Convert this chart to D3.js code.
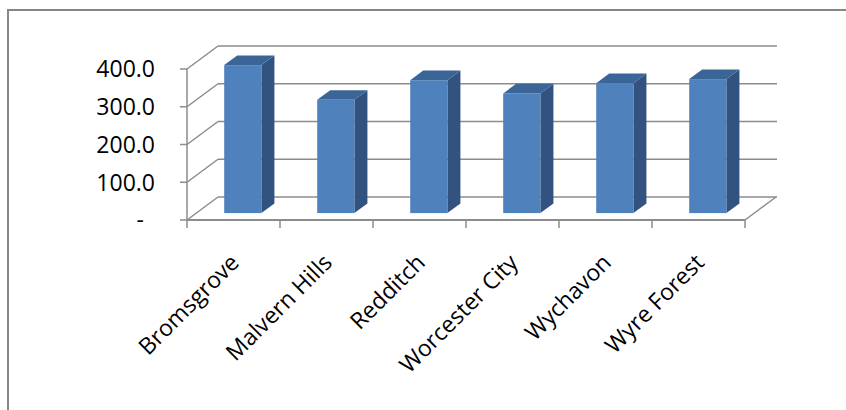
<!DOCTYPE html>
<html>
<head>
<meta charset="utf-8">
<script src="https://cdn.jsdelivr.net/npm/d3@7"></script>
<style>
  html, body { margin: 0; padding: 0; background: #fff; overflow: hidden; }
  svg { display: block; }
</style>
</head>
<body>
<svg id="chart" width="846" height="410"></svg>
<script>
const categories = ["Bromsgrove", "Malvern Hills", "Redditch", "Worcester City", "Wychavon", "Wyre Forest"];
const values = [392, 300, 352, 317, 344, 355];
const yTicks = [0, 100, 200, 300, 400];
const yTickLabels = ["-", "100.0", "200.0", "300.0", "400.0"];

const svg = d3.select("#chart");

// outer chart border: only top and left edges fall inside the frame
svg.append("path")
  .attr("d", "M8,412 L8,10 L848,10")
  .attr("fill", "none")
  .attr("stroke", "#868686").attr("stroke-width", 2);

// 3D projection: depth offset of the full floor
const DX = 31, DY = -23;
const x = d3.scaleBand().domain(categories).range([187, 745]).paddingInner(0).paddingOuter(0);
const y = d3.scaleLinear().domain([0, 400]).range([220, 69]);

const grid = "#8c8c8c";
const g = svg.append("g");

g.selectAll(".bgrid").data(yTicks).join("line")
  .attr("x1", 187 + DX).attr("x2", 745 + DX + 1)
  .attr("y1", d => y(d) + DY).attr("y2", d => y(d) + DY)
  .attr("stroke", grid).attr("stroke-width", 1.5);

g.selectAll(".lgrid").data(yTicks).join("line")
  .attr("x1", 187).attr("x2", 187 + DX)
  .attr("y1", d => y(d)).attr("y2", d => y(d) + DY)
  .attr("stroke", grid).attr("stroke-width", 1.5);

g.append("line")
  .attr("x1", 187).attr("x2", 187)
  .attr("y1", y(400)).attr("y2", y(0))
  .attr("stroke", grid).attr("stroke-width", 1.5);

g.selectAll(".ytick").data(yTicks).join("line")
  .attr("x1", 180).attr("x2", 187)
  .attr("y1", d => y(d)).attr("y2", d => y(d))
  .attr("stroke", grid).attr("stroke-width", 1.5);

g.append("line")
  .attr("x1", 187).attr("x2", 745)
  .attr("y1", y(0)).attr("y2", y(0))
  .attr("stroke", grid).attr("stroke-width", 1.8);
g.append("line")
  .attr("x1", 745).attr("x2", 745 + DX)
  .attr("y1", y(0)).attr("y2", y(0) + DY)
  .attr("stroke", grid).attr("stroke-width", 1.5);

const edges = categories.map(c => x(c)).concat([x.range()[1]]);
g.selectAll(".xtick").data(edges).join("line")
  .attr("x1", d => d).attr("x2", d => d)
  .attr("y1", y(0)).attr("y2", y(0) + 8)
  .attr("stroke", grid).attr("stroke-width", 1.5);

// bars
const d0 = 0.3, dd = 0.42;
const barW = x.bandwidth() * 0.4;
const bars = g.selectAll(".bar").data(categories.map((c, i) => ({c, v: values[i]}))).join("g");
bars.each(function(d) {
  const sel = d3.select(this);
  const xl = x(d.c) + (x.bandwidth() - barW) / 2 + d0 * DX;
  const xr = xl + barW;
  const yt = y(d.v) + d0 * DY;
  const yb = y(0) + d0 * DY;
  const ox = dd * DX, oy = dd * DY;
  sel.append("polygon")
    .attr("points", [[xr, yt], [xr + ox, yt + oy], [xr + ox, yb + oy], [xr, yb]].map(p => p.join(",")).join(" "))
    .attr("fill", "#32537f");
  sel.append("polygon")
    .attr("points", [[xl, yt], [xr, yt], [xr + ox, yt + oy], [xl + ox, yt + oy]].map(p => p.join(",")).join(" "))
    .attr("fill", "#3b6497");
  sel.append("rect")
    .attr("x", xl).attr("y", yt)
    .attr("width", barW).attr("height", yb - yt)
    .attr("fill", "#4f81bd");
});

const font = "'Open Sans', 'Noto Sans', sans-serif";
g.selectAll(".ylab").data(yTicks).join("text")
  .attr("x", (d, i) => i === 0 ? 144 : 155)
  .attr("y", d => y(d))
  .attr("dy", "0.36em")
  .attr("text-anchor", "end")
  .attr("font-family", font)
  .attr("font-size", 23)
  .attr("fill", "#000")
  .text((d, i) => yTickLabels[i]);

g.selectAll(".xlab").data(categories).join("text")
  .attr("transform", d => `translate(${x(d) + x.bandwidth() / 2 + 7},${264}) rotate(-45)`)
  .attr("text-anchor", "end")
  .attr("font-family", font)
  .attr("font-size", 23)
  .attr("fill", "#000")
  .text(d => d);
</script>
</body>
</html>
